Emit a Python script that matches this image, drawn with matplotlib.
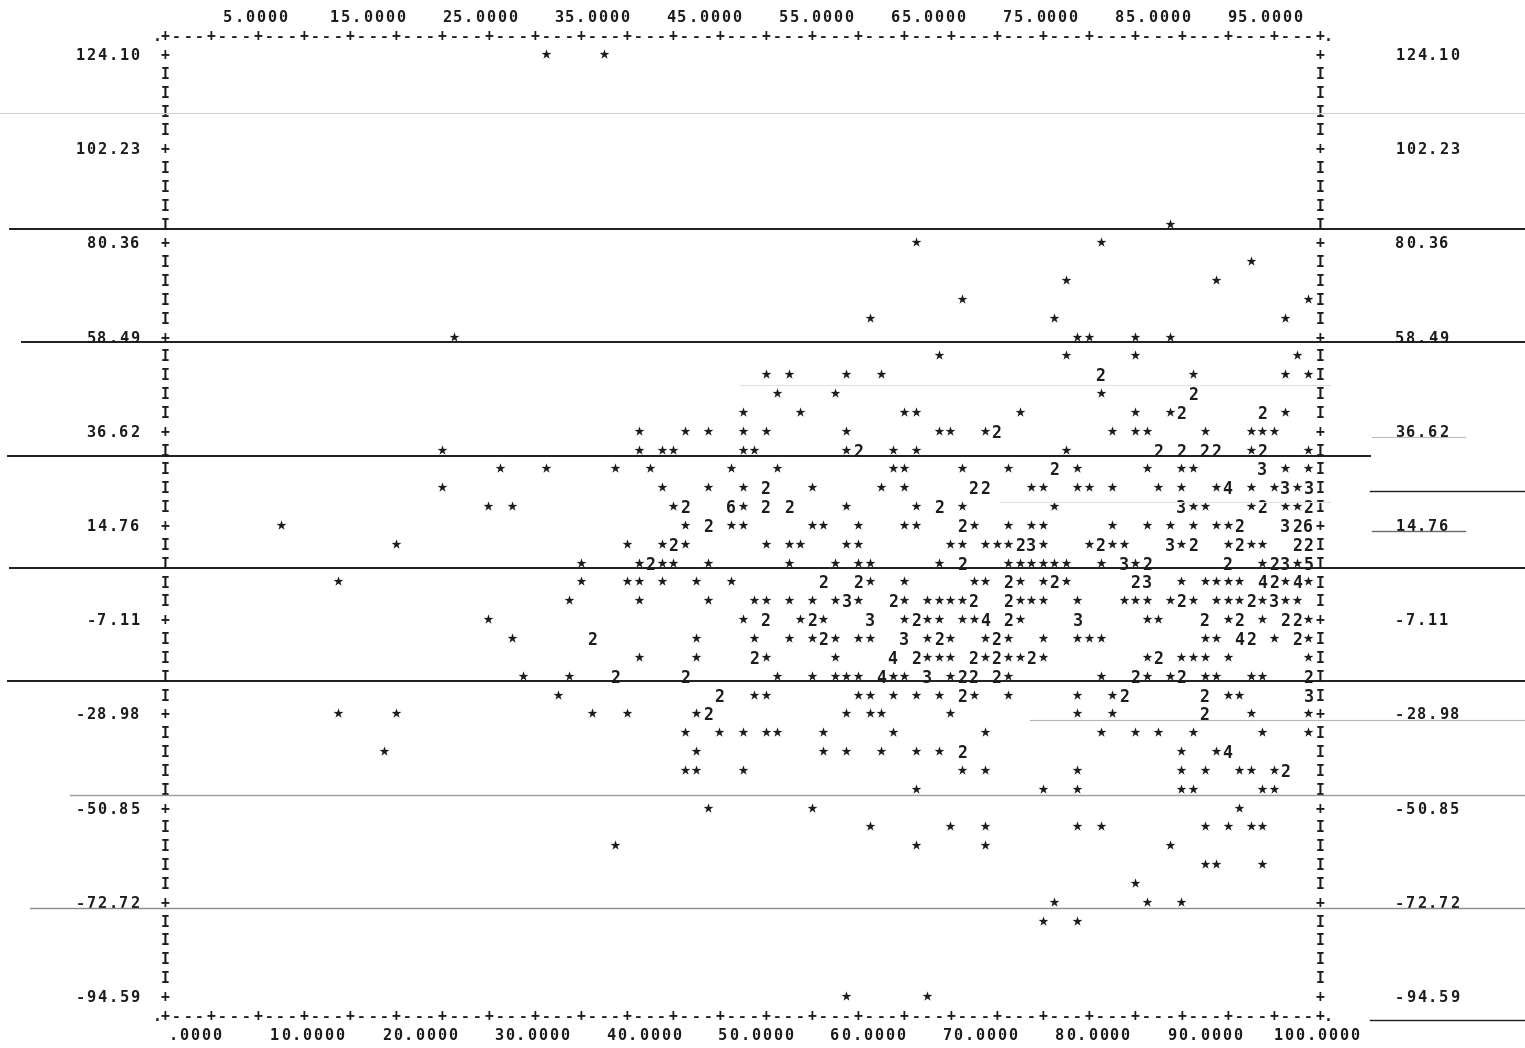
import matplotlib
matplotlib.use("Agg")
import matplotlib.pyplot as plt
from matplotlib.lines import Line2D

# scale labels printed on both sides and along top / bottom
y_ticks = [124.10, 102.23, 80.36, 58.49, 36.62, 14.76, -7.11, -28.98, -50.85, -72.72, -94.59]
x_top = [5, 15, 25, 35, 45, 55, 65, 75, 85, 95]
x_bottom = [0, 10, 20, 30, 40, 50, 60, 70, 80, 90, 100]

# one entry per printed row: y level, x of every mark, and the marks
# ('*' = one case, a digit = that many cases falling in the same cell)
row_y = [124.10, 84.74, 80.36, 75.99, 71.61, 67.24, 62.87, 58.49, 54.12, 49.75,
         45.37, 41.00, 36.62, 32.25, 27.88, 23.50, 19.13, 14.76, 10.38, 6.01,
         1.64, -2.74, -7.11, -11.48, -15.86, -20.23, -24.61, -28.98, -33.35, -37.73,
         -42.10, -46.48, -50.85, -55.22, -59.60, -63.97, -68.35, -72.72, -77.09, -94.59]
row_x = [
    [33, 38],
    [87],
    [65, 81],
    [94],
    [78, 91],
    [69, 99],
    [61, 77, 97],
    [25, 79, 80, 84, 87],
    [67, 78, 84, 98],
    [52, 54, 59, 62, 81, 89, 97, 99],
    [53, 58, 81, 89],
    [50, 55, 64, 65, 74, 84, 87, 88, 95, 97],
    [41, 45, 47, 50, 52, 59, 67, 68, 71, 72, 82, 84, 85, 90, 94, 95, 96],
    [24, 41, 43, 44, 50, 51, 59, 60, 63, 65, 78, 86, 88, 90, 91, 94, 95, 99],
    [29, 33, 39, 42, 49, 53, 63, 64, 69, 73, 77, 79, 85, 88, 89, 95, 97, 99],
    [24, 43, 47, 50, 52, 56, 62, 64, 70, 71, 75, 76, 79, 80, 82, 86, 88, 91, 92, 94, 96, 97, 98, 99],
    [28, 30, 44, 45, 49, 50, 52, 54, 59, 65, 67, 69, 77, 88, 89, 90, 94, 95, 97, 98, 99],
    [10, 45, 47, 49, 50, 56, 57, 60, 64, 65, 69, 70, 73, 75, 76, 82, 85, 87, 89, 91, 92, 93, 97, 98, 99],
    [20, 40, 43, 44, 45, 52, 54, 55, 59, 60, 68, 69, 71, 72, 73, 74, 75, 76, 80, 81, 82, 83, 87, 88, 89,
     92, 93, 94, 95, 98, 99],
    [36, 41, 42, 43, 44, 47, 54, 58, 60, 61, 67, 69, 73, 74, 75, 76, 77, 78, 81, 83, 84, 85, 92, 95, 96,
     97, 98, 99],
    [15, 36, 40, 41, 43, 46, 49, 57, 60, 61, 64, 70, 71, 73, 74, 76, 77, 78, 84, 85, 88, 90, 91, 92, 93,
     95, 96, 97, 98, 99],
    [35, 41, 47, 51, 52, 54, 56, 58, 59, 60, 63, 64, 66, 67, 68, 69, 70, 73, 74, 75, 76, 79, 83, 84, 85,
     87, 88, 89, 91, 92, 93, 94, 95, 96, 97, 98],
    [28, 50, 52, 55, 56, 57, 61, 64, 65, 66, 67, 69, 70, 71, 73, 74, 79, 85, 86, 90, 92, 93, 95, 97, 98, 99],
    [30, 37, 46, 51, 54, 56, 57, 58, 60, 61, 64, 66, 67, 68, 71, 72, 73, 76, 79, 80, 81, 90, 91, 93, 94,
     96, 98, 99],
    [41, 46, 51, 52, 58, 63, 65, 66, 67, 68, 70, 71, 72, 73, 74, 75, 76, 85, 86, 88, 89, 90, 92, 99],
    [31, 35, 39, 45, 53, 56, 58, 59, 60, 62, 63, 64, 66, 68, 69, 70, 72, 73, 81, 84, 85, 87, 88, 90, 91,
     94, 95, 99],
    [34, 48, 51, 52, 60, 61, 63, 65, 67, 69, 70, 73, 79, 82, 83, 90, 92, 93, 99],
    [15, 20, 37, 40, 46, 47, 59, 61, 62, 68, 79, 82, 90, 94, 99],
    [45, 48, 50, 52, 53, 57, 63, 71, 81, 84, 86, 89, 95, 99],
    [19, 46, 57, 59, 62, 65, 67, 69, 88, 91, 92],
    [45, 46, 50, 69, 71, 79, 88, 90, 93, 94, 96, 97],
    [65, 76, 79, 88, 89, 95, 96],
    [47, 56, 93],
    [61, 68, 71, 79, 81, 90, 92, 94, 95],
    [39, 65, 71, 87],
    [90, 91, 95],
    [84],
    [77, 85, 88],
    [76, 79],
    [59, 66],
]
row_mark = [
    "**", "*", "**", "*", "**", "**", "***", "*****", "****",
    "****2***",
    "***2",
    "*******22*",
    "*********2*******",
    "*******2***2222*2*",
    "**********2****3**",
    "****2***22********4**3*3",
    "***26*22**2**3***2**2",
    "**2*******2**********2326",
    "***2***********23**2**3*2*2**22",
    "**2********2*******3*22*23*5",
    "*******22****2**2*23*****42*4*",
    "********3*2*****22********2****2*3**",
    "**2*2*3*2****42*3**2*2*22*",
    "*2****2***3*2**2*******42*2*",
    "**2**42***2*2**2**2*****",
    "**22*****4**3*222**2**2****2",
    "*2*******2****22**3",
    "*****2******2**",
    "**************",
    "*******2**4",
    "***********2",
    "*******", "***", "*********", "****", "***", "*", "***", "**", "**",
]

W, H = 1525, 1048
ink = "#1c1c1c"
mono = "DejaVu Sans Mono"
pitch = 0.95  # printer character pitch in x units for the label lines

fig = plt.figure(figsize=(W / 100, H / 100), dpi=100)
fig.patch.set_facecolor("white")
ax = fig.add_axes([165 / W, 1 - 996 / H, 1155 / W, (996 - 54) / H])
ax.set_xlim(0, 100)
ax.set_ylim(y_ticks[-1], y_ticks[0])
ax.axis("off")

step = (y_ticks[0] - y_ticks[-1]) / 50.0


def put(x0, y, s, size=11, weight="bold"):
    # lay a string out one character per print position
    for i, ch in enumerate(s):
        ax.text(x0 + i * pitch, y, ch, ha="center", va="center_baseline", fontsize=size,
                family=mono, weight=weight, color=ink, clip_on=False)


# continuous-form paper rules showing through the scan
rules = [(113, 0, 1525, "#d2d2d2", 0.8), (229, 10, 1525, ink, 1.4), (342, 22, 1525, ink, 1.4),
         (385, 740, 1330, "#e2e2e2", 0.8), (437, 1372, 1465, "#bdbdbd", 0.8),
         (456, 8, 1370, ink, 1.4), (491, 1370, 1525, ink, 1.0), (502, 1000, 1330, "#e2e2e2", 0.8),
         (531, 1372, 1465, "#6a6a6a", 1.0), (568, 10, 1525, ink, 1.4),
         (681, 8, 1525, ink, 1.4), (720, 1030, 1525, "#b5b5b5", 0.8),
         (795, 70, 1525, "#9c9c9c", 1.0), (908, 30, 1525, "#8c8c8c", 1.0),
         (1020, 1370, 1525, ink, 1.0)]
for py, x0, x1, col, lw in rules:
    fig.add_artist(Line2D([x0 / W, x1 / W], [1 - py / H, 1 - py / H], color=col, lw=lw,
                          transform=fig.transFigure))

# frame: '+' on labelled rows, 'I' between
for r in range(51):
    y = y_ticks[0] - r * step
    ch = "+" if r % 5 == 0 else "I"
    for xb in (0, 100):
        ax.text(xb, y, ch, ha="center", va="center_baseline", fontsize=10.5,
                family=mono, weight="bold", color=ink, clip_on=False)

for yb in (y_ticks[0] + step, y_ticks[-1] - step):
    for c in range(101):
        ch = "+" if c % 4 == 0 else "-"
        ax.text(c, yb, ch, ha="center", va="center_baseline", fontsize=10.5,
                family=mono, weight="bold", color=ink, clip_on=False)
    for xd in (-0.7, 100.7):
        ax.text(xd, yb, ".", ha="center", va="center_baseline", fontsize=10.5,
                family=mono, weight="bold", color=ink, clip_on=False)

# side scale labels
for v in y_ticks:
    lab = f"{v:.2f}"
    put(-2.6 - (len(lab) - 1) * pitch, v, lab)
    put(106.9, v, lab)

# top / bottom scale labels (printed slightly tighter than the plot grid)
for v in x_top:
    lab = f"{v:.4f}"
    put(2.95 + v * 0.971 - (len(lab) - 1) / 2 * pitch, y_ticks[0] + 2 * step, lab)
for v in x_bottom:
    lab = f"{v:.4f}"
    if lab.startswith("0."):
        lab = lab[1:]
    put(2.6 + v * 0.971 - (len(lab) - 1) / 2 * pitch, y_ticks[-1] - 2 * step, lab)

# the points
sx, sy = [], []
for y, xs, marks in zip(row_y, row_x, row_mark):
    for x, m in zip(xs, marks):
        if m == "*":
            sx.append(x)
            sy.append(y)
        else:
            ax.text(x, y, m, ha="center", va="center_baseline", fontsize=12,
                    family=mono, weight="bold", color=ink, clip_on=False)
ax.scatter(sx, sy, marker="*", s=56, color=ink, linewidths=0, clip_on=False)

fig.savefig("out.png", dpi=100, facecolor="white")
